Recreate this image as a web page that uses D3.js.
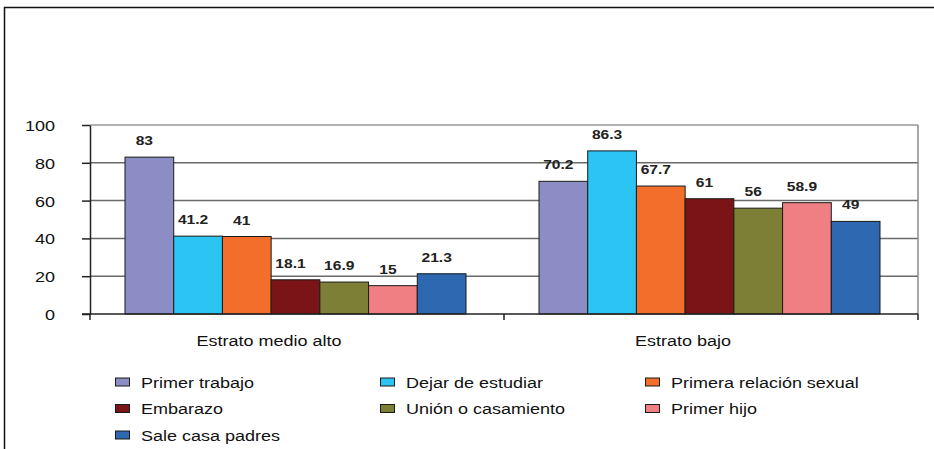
<!DOCTYPE html>
<html>
<head>
<meta charset="utf-8">
<script src="https://cdn.jsdelivr.net/npm/d3@7/dist/d3.min.js"></script>
<style>
  body { margin: 0; background: #fff; }
  svg { display: block; font-family: "Liberation Sans", Arial, sans-serif; }
</style>
</head>
<body>
<div id="chart"></div>
<script>
// data
var categories = ["Estrato medio alto", "Estrato bajo"];
var series = ["Primer trabajo", "Dejar de estudiar", "Primera relación sexual",
              "Embarazo", "Unión o casamiento", "Primer hijo", "Sale casa padres"];
var medioAlto = [83, 41.2, 41, 18.1, 16.9, 15, 21.3];
var bajo = [70.2, 86.3, 67.7, 61, 56, 58.9, 49];
var colors = ["#8b8dc4", "#2cc5f3", "#f26e2a", "#7b1416", "#7c7f35", "#f07f83", "#2d68b0"];
var yTicks = [0, 20, 40, 60, 80, 100];

var values = [medioAlto, bajo];
var W = 934, H = 449;
var plotLeft = 90, plotRight = 918, plotTop = 125, plotBottom = 314;
var sx = 1.2; // the picture text is stretched sideways

var svg = d3.select("#chart").append("svg")
    .attr("width", W)
    .attr("height", H);

// outer frame (top and left only)
svg.append("path")
    .attr("d", "M4.5," + H + "V7.5H" + W)
    .attr("fill", "none")
    .attr("stroke", "#111")
    .attr("stroke-width", 1.5);

var x0 = d3.scaleBand().domain(categories).range([plotLeft, plotRight]);
var x1 = d3.scaleBand().domain(series).range([35, x0.bandwidth() - 38]);
var y = d3.scaleLinear().domain([0, 100]).range([plotBottom, plotTop]);

// gridlines
svg.append("g").selectAll("line")
    .data(yTicks.filter(function(d) { return d > 0; }))
  .enter().append("line")
    .attr("x1", plotLeft).attr("x2", plotRight)
    .attr("y1", function(d) { return y(d); })
    .attr("y2", function(d) { return y(d); })
    .attr("stroke", function(d) { return d == 100 ? "#9a9a9a" : "#6a6a6a"; })
    .attr("stroke-width", 1.5);

// right plot border
svg.append("line")
    .attr("x1", plotRight).attr("x2", plotRight)
    .attr("y1", plotTop).attr("y2", plotBottom)
    .attr("stroke", "#8a8a8a").attr("stroke-width", 1.5);

// bars
var groups = svg.append("g").selectAll("g")
    .data(categories)
  .enter().append("g")
    .attr("transform", function(d) { return "translate(" + x0(d) + ",0)"; });

groups.selectAll("rect")
    .data(function(d, i) { return values[i].map(function(v, j) { return {s: series[j], v: v, c: colors[j]}; }); })
  .enter().append("rect")
    .attr("x", function(d) { return x1(d.s); })
    .attr("width", x1.bandwidth())
    .attr("y", function(d) { return y(d.v); })
    .attr("height", function(d) { return y(0) - y(d.v); })
    .attr("fill", function(d) { return d.c; })
    .attr("stroke", "#1a1a1a")
    .attr("stroke-width", 1);

groups.selectAll("text")
    .data(function(d, i) { return values[i].map(function(v, j) { return {s: series[j], v: v}; }); })
  .enter().append("text")
    .attr("transform", function(d) {
      return "translate(" + (x1(d.s) + x1.bandwidth() / 2 - 5) + "," + (y(d.v) - 12) + ") scale(" + sx + ",1)";
    })
    .attr("text-anchor", "middle")
    .attr("font-size", 13)
    .attr("font-weight", "bold")
    .attr("fill", "#222")
    .text(function(d) { return d.v; });

// y axis
var yAxis = svg.append("g")
    .attr("transform", "translate(" + plotLeft + ",0)")
    .call(d3.axisLeft(y).tickValues(yTicks).tickSize(8).tickSizeOuter(0).tickPadding(0));
yAxis.select(".domain").attr("stroke", "#222").attr("stroke-width", 1.5);
yAxis.selectAll(".tick line").attr("stroke", "#222").attr("stroke-width", 1.5);
yAxis.selectAll(".tick text")
    .attr("x", null).attr("dy", null)
    .attr("transform", "translate(-35,5.5) scale(" + sx + ",1)")
    .attr("font-size", 15)
    .attr("font-family", "Liberation Sans, Arial, sans-serif")
    .attr("fill", "#111");

// x axis: ticks at the band edges
var xAxis = svg.append("g");
xAxis.append("line")
    .attr("x1", plotLeft - 8).attr("x2", plotRight)
    .attr("y1", plotBottom).attr("y2", plotBottom)
    .attr("stroke", "#222").attr("stroke-width", 1.5);
xAxis.selectAll(".xt")
    .data(categories.map(function(c) { return x0(c); }).concat([plotRight]))
  .enter().append("line")
    .attr("class", "xt")
    .attr("x1", function(d) { return d; }).attr("x2", function(d) { return d; })
    .attr("y1", plotBottom).attr("y2", plotBottom + 6)
    .attr("stroke", "#222").attr("stroke-width", 1.5);
xAxis.selectAll("text")
    .data(categories)
  .enter().append("text")
    .attr("transform", function(d) {
      return "translate(" + (x0(d) + x0.bandwidth() / 2 - 28) + "," + 346 + ") scale(" + sx + ",1)";
    })
    .attr("text-anchor", "middle")
    .attr("font-size", 15)
    .attr("fill", "#111")
    .text(function(d) { return d; });

// legend, 3 columns
var legend = svg.append("g").selectAll("g")
    .data(series)
  .enter().append("g")
    .attr("transform", function(d, i) {
      return "translate(" + (115 + (i % 3) * 265) + "," + (382 + Math.floor(i / 3) * 26.5) + ")";
    });
legend.append("rect")
    .attr("x", 0.5).attr("y", -4)
    .attr("width", 14).attr("height", 8)
    .attr("fill", function(d, i) { return colors[i]; })
    .attr("stroke", "#1a1a1a").attr("stroke-width", 1);
legend.append("text")
    .attr("transform", "translate(26,5.5) scale(" + sx + ",1)")
    .attr("font-size", 15)
    .attr("fill", "#111")
    .text(function(d) { return d; });
</script>
</body>
</html>
